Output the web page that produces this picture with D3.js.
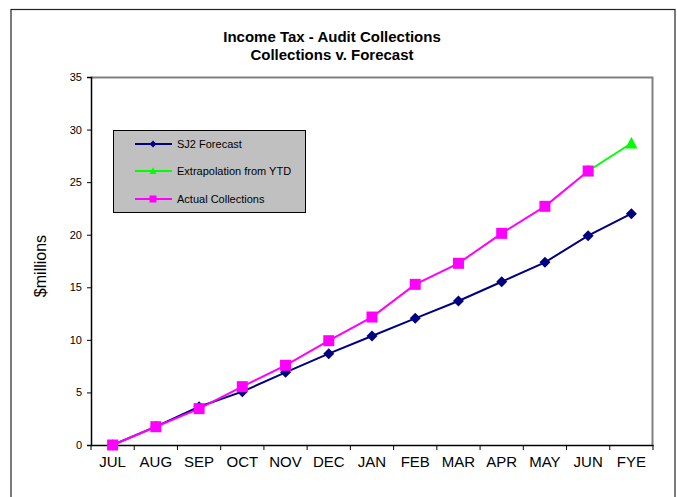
<!DOCTYPE html>
<html>
<head>
<meta charset="utf-8">
<script src="https://cdn.jsdelivr.net/npm/d3@7"></script>
<style>
  html, body { margin: 0; padding: 0; background: #fff; }
  svg { display: block; font-family: Arial, "Liberation Sans", sans-serif; }
</style>
</head>
<body>
<svg id="chart" width="677" height="497"></svg>
<script>
// Monthly cumulative audit collections, $ millions
const months = ["JUL","AUG","SEP","OCT","NOV","DEC","JAN","FEB","MAR","APR","MAY","JUN","FYE"];
const forecast = [0, 1.75, 3.64, 5.07, 6.91, 8.69, 10.37, 12.05, 13.7, 15.53, 17.37, 19.91, 22.0];
const extrapolation = [null, null, null, null, null, null, null, null, null, null, null, 26.06, 28.7];
const actual = [0, 1.74, 3.46, 5.55, 7.58, 9.92, 12.17, 15.28, 17.28, 20.13, 22.7, 26.06, null];
const yTicks = [0, 5, 10, 15, 20, 25, 30, 35];
const titleLines = ["Income Tax - Audit Collections", "Collections v. Forecast"];
const yAxisTitle = "$millions";

const series = [
  { name: "SJ2 Forecast", values: forecast, color: "#000080", marker: "diamond" },
  { name: "Extrapolation from YTD", values: extrapolation, color: "#00FF00", marker: "triangle" },
  { name: "Actual Collections", values: actual, color: "#FF00FF", marker: "square" }
];

const svg = d3.select("#chart");
const plot = { left: 91, right: 653, top: 77, bottom: 445 };

// Chart area frame
svg.append("rect")
  .attr("x", 11).attr("y", 9.5)
  .attr("width", 664).attr("height", 500)
  .attr("fill", "#fff").attr("stroke", "#222").attr("stroke-width", 1.2);

const x = d3.scaleBand().domain(months).range([plot.left, plot.right]).padding(0);
const y = d3.scaleLinear().domain([0, 35]).range([plot.bottom, plot.top]);

// Plot area outline (top and right in gray)
svg.append("path")
  .attr("d", `M${plot.left},${plot.top + 0.5}H${plot.right - 0.5}V${plot.bottom}`)
  .attr("fill", "none").attr("stroke", "#808080").attr("stroke-width", 2);

// Title
svg.append("text")
  .attr("x", 332).attr("y", 42)
  .attr("text-anchor", "middle")
  .attr("font-size", 15).attr("font-weight", "bold")
  .selectAll("tspan").data(titleLines).join("tspan")
  .attr("x", 332).attr("dy", (d, i) => i === 0 ? 0 : 18)
  .text(d => d);

// Y axis
const yAxis = svg.append("g")
  .attr("transform", `translate(${plot.left},0)`)
  .call(d3.axisLeft(y).tickValues(yTicks).tickSize(4).tickPadding(5).tickFormat(d3.format("d")));
yAxis.select(".domain").attr("stroke", "#000").attr("stroke-width", 1.5);
yAxis.selectAll(".tick line").attr("stroke", "#000");
yAxis.selectAll("text").attr("font-size", 11).attr("font-family", "Arial, 'Liberation Sans', sans-serif").attr("fill", "#000");

// X axis with ticks on category boundaries
const xAxis = svg.append("g")
  .attr("transform", `translate(0,${plot.bottom})`)
  .call(d3.axisBottom(x).tickSize(0).tickPadding(11));
xAxis.select(".domain").attr("stroke", "#000").attr("stroke-width", 1.5);
xAxis.selectAll("text").attr("font-size", 15).attr("font-family", "Arial, 'Liberation Sans', sans-serif").attr("fill", "#000");
const boundaries = months.map(m => x(m)).concat([plot.right]);
xAxis.selectAll("line.bound").data(boundaries).join("line")
  .attr("class", "bound")
  .attr("x1", d => d).attr("x2", d => d)
  .attr("y1", 0).attr("y2", 5)
  .attr("stroke", "#000").attr("stroke-width", 1);

// Y axis title
svg.append("text")
  .attr("transform", `translate(46,266) rotate(-90)`)
  .attr("text-anchor", "middle")
  .attr("font-size", 16)
  .text(yAxisTitle);

// Marker shapes
function markerPath(type, size) {
  const h = size / 2;
  if (type === "diamond") return `M0,${-h}L${h},0L0,${h}L${-h},0Z`;
  if (type === "square") return `M${-h},${-h}H${h}V${h}H${-h}Z`;
  const t = size * 0.55;
  return `M0,${-t}L${h},${t * 0.8}L${-h},${t * 0.8}Z`;
}
const markerSize = { diamond: 11, square: 11, triangle: 12 };

const cx = m => x(m) + x.bandwidth() / 2;
const line = d3.line()
  .defined(d => d.v !== null)
  .x(d => cx(d.m))
  .y(d => y(d.v));

series.forEach(s => {
  const pts = months.map((m, i) => ({ m, v: s.values[i] }));
  svg.append("path")
    .datum(pts)
    .attr("d", line)
    .attr("fill", "none")
    .attr("stroke", s.color)
    .attr("stroke-width", 2);
  svg.append("g").selectAll("path").data(pts.filter(d => d.v !== null)).join("path")
    .attr("transform", d => `translate(${cx(d.m)},${y(d.v)})`)
    .attr("d", markerPath(s.marker, markerSize[s.marker]))
    .attr("fill", s.color);
});

// Legend
const legend = svg.append("g").attr("transform", "translate(113,130)");
legend.append("rect")
  .attr("x", 0.5).attr("y", 0.5)
  .attr("width", 192).attr("height", 82)
  .attr("fill", "#C0C0C0").attr("stroke", "#000").attr("stroke-width", 1);
const rows = legend.selectAll("g.row").data(series).join("g")
  .attr("class", "row")
  .attr("transform", (d, i) => `translate(0,${[14, 41, 69][i]})`);
rows.append("line")
  .attr("x1", 22).attr("x2", 59).attr("y1", 0).attr("y2", 0)
  .attr("stroke", d => d.color).attr("stroke-width", 2);
rows.append("path")
  .attr("transform", "translate(40,0)")
  .attr("d", d => markerPath(d.marker, 7))
  .attr("fill", d => d.color);
rows.append("text")
  .attr("x", 64).attr("y", 4)
  .attr("font-size", 11)
  .text(d => d.name);
</script>
</body>
</html>
